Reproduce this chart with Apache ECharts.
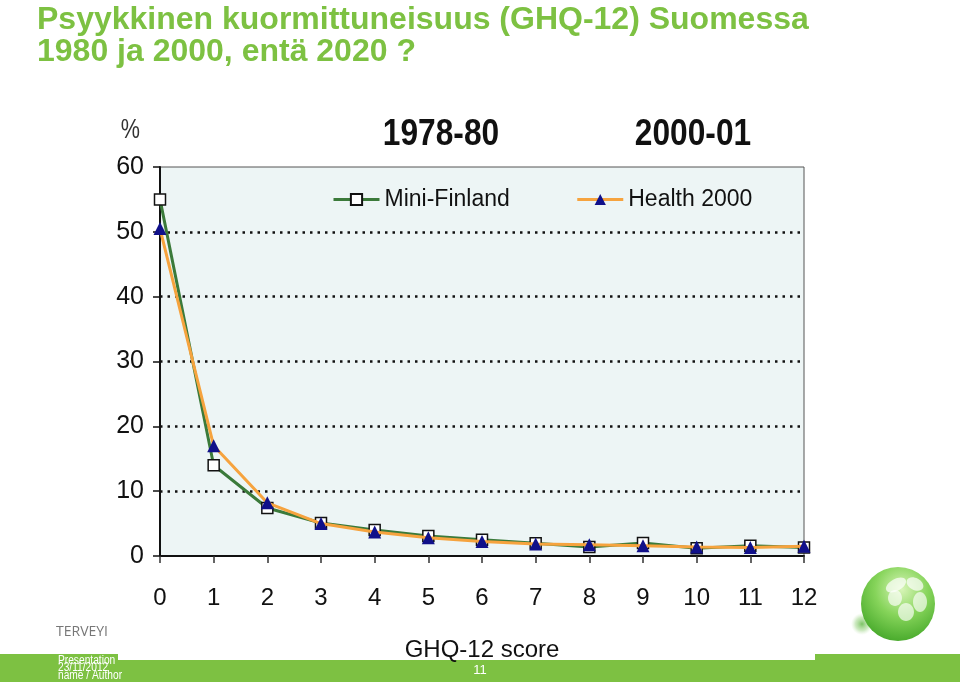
<!DOCTYPE html>
<html>
<head>
<meta charset="utf-8">
<script src="https://cdn.jsdelivr.net/npm/echarts@6/dist/echarts.min.js"></script>
<style>
html,body{margin:0;padding:0;background:#fff;}
#c{width:960px;height:682px;}
</style>
</head>
<body>
<div id="c"></div>
<script>
var categories = ['0','1','2','3','4','5','6','7','8','9','10','11','12'];
var miniFinland = [55, 14, 7.4, 5.1, 4.0, 3.1, 2.5, 1.95, 1.4, 2.0, 1.2, 1.6, 1.3];
var health2000 = [50.5, 17, 8.2, 5.0, 3.7, 2.8, 2.25, 1.85, 1.75, 1.6, 1.4, 1.3, 1.5];
var yTicks = {min: 0, max: 60, interval: 10};
var seriesNames = ['Mini-Finland', 'Health 2000'];
var periodLabels = ['1978-80', '2000-01'];
var titleLines = ['Psyykkinen kuormittuneisuus (GHQ-12) Suomessa', '1980 ja 2000, entä 2020 ?'];
var xAxisTitle = 'GHQ-12 score';
var yAxisUnit = '%';
var footerLeft = ['Presentation', '23/11/2012', 'name / Author'];
var pageNumber = '11';
var orgLabel = 'TERVEYI';

var ARIAL = '"Liberation Sans",Arial,sans-serif';
var GREEN = '#7DC142';

var chart = echarts.init(document.getElementById('c'), null, {renderer: 'canvas'});
var option = {
  backgroundColor: '#ffffff',
  animation: false,
  grid: {
    left: 160, right: 156, top: 167, bottom: 126,
    show: true, backgroundColor: '#EDF5F5', borderColor: '#555', borderWidth: 1
  },
  legend: {
    left: 327, top: 183,
    itemWidth: 46, itemHeight: 14, itemGap: 66,
    lineStyle: {width: 3},
    textStyle: {fontFamily: ARIAL, fontSize: 23, color: '#111'},
    data: seriesNames
  },
  xAxis: {
    type: 'category', data: categories, boundaryGap: false, z: 5,
    axisLine: {lineStyle: {color: '#111', width: 2}},
    axisTick: {show: true, length: 7, lineStyle: {color: '#333', width: 1.5}},
    axisLabel: {fontFamily: ARIAL, fontSize: 24, color: '#111', margin: 30},
    name: xAxisTitle, nameLocation: 'middle', nameGap: 82,
    nameTextStyle: {fontFamily: ARIAL, fontSize: 24, color: '#111'}
  },
  yAxis: {
    type: 'value', min: yTicks.min, max: yTicks.max, interval: yTicks.interval,
    axisLine: {show: true, lineStyle: {color: '#111', width: 2}},
    axisTick: {show: true, length: 7, lineStyle: {color: '#111', width: 1.5}},
    axisLabel: {fontFamily: ARIAL, fontSize: 25, color: '#111', margin: 16},
    splitLine: {show: true, showMinLine: false, showMaxLine: false,
      lineStyle: {color: '#111', width: 2.5, type: [2.5, 5]}}
  },
  series: [
    {
      name: seriesNames[0], type: 'line', data: miniFinland,
      symbol: 'rect', symbolSize: 11,
      lineStyle: {color: '#3B7A3A', width: 3},
      itemStyle: {color: '#ffffff', borderColor: '#111', borderWidth: 1.5},
      z: 2
    },
    {
      name: seriesNames[1], type: 'line', data: health2000,
      symbol: 'triangle', symbolSize: 13,
      lineStyle: {color: '#F6A33E', width: 3},
      itemStyle: {color: '#10108A', borderColor: '#10108A', borderWidth: 0},
      z: 3
    }
  ],
  graphic: [
    {type: 'rect', shape: {x: 0, y: 654, width: 960, height: 28}, style: {fill: GREEN}, z: -2},
    {type: 'rect', shape: {x: 118, y: 600, width: 697, height: 60}, style: {fill: '#ffffff'}, z: -1},
    {type: 'text', x: 37, y: 4, z: 5, style: {text: titleLines[0], font: 'bold 32px ' + ARIAL, fill: GREEN}},
    {type: 'text', x: 37, y: 36, z: 5, style: {text: titleLines[1], font: 'bold 32px ' + ARIAL, fill: GREEN}},
    {type: 'text', x: 140, y: 117, z: 5, scaleX: 0.8, style: {text: yAxisUnit, font: '27px ' + ARIAL, fill: '#333', align: 'right'}},
    {type: 'text', x: 441, y: 117, z: 5, scaleX: 0.88, style: {text: periodLabels[0], font: 'bold 36px ' + ARIAL, fill: '#111', align: 'center'}},
    {type: 'text', x: 693, y: 117, z: 5, scaleX: 0.88, style: {text: periodLabels[1], font: 'bold 36px ' + ARIAL, fill: '#111', align: 'center'}},
    {type: 'text', x: 56, y: 625, z: -3, style: {text: orgLabel, font: '14px "Open Sans",' + ARIAL, fill: '#777'}},
    {type: 'text', x: 58, y: 655, z: 6, scaleX: 0.85, style: {text: footerLeft[0], font: '12px ' + ARIAL, fill: '#fff'}},
    {type: 'text', x: 58, y: 662, z: 6, scaleX: 0.85, style: {text: footerLeft[1], font: '12px ' + ARIAL, fill: '#fff'}},
    {type: 'text', x: 58, y: 670, z: 6, scaleX: 0.85, style: {text: footerLeft[2], font: '12px ' + ARIAL, fill: '#fff'}},
    {type: 'text', x: 480, y: 664, z: 6, style: {text: pageNumber, font: '13px ' + ARIAL, fill: '#fff', align: 'center'}},
    {type: 'ellipse', shape: {cx: 862, cy: 624, rx: 27, ry: 11}, z: 2,
      style: {fill: {type: 'radial', x: 0.5, y: 0.5, r: 0.5, colorStops: [{offset: 0, color: 'rgba(80,175,50,0.75)'}, {offset: 0.6, color: 'rgba(130,200,100,0.4)'}, {offset: 1, color: 'rgba(180,225,160,0)'}]}}},
    {type: 'circle', shape: {cx: 898, cy: 604, r: 37}, z: 3,
      style: {fill: {type: 'radial', x: 0.55, y: 0.3, r: 0.8, colorStops: [{offset: 0, color: '#D8F5B8'}, {offset: 0.45, color: '#86D45A'}, {offset: 0.85, color: '#4EAE30'}, {offset: 1, color: '#3E9826'}]}}},
    {type: 'ellipse', shape: {cx: 896, cy: 585, rx: 11, ry: 6}, rotation: 0.5, originX: 896, originY: 585, z: 4, style: {fill: 'rgba(255,255,255,0.7)'}},
    {type: 'ellipse', shape: {cx: 915, cy: 584, rx: 9, ry: 6}, rotation: -0.5, originX: 915, originY: 584, z: 4, style: {fill: 'rgba(255,255,255,0.7)'}},
    {type: 'ellipse', shape: {cx: 920, cy: 602, rx: 7, ry: 10}, z: 4, style: {fill: 'rgba(255,255,255,0.65)'}},
    {type: 'ellipse', shape: {cx: 906, cy: 612, rx: 8, ry: 9}, z: 4, style: {fill: 'rgba(255,255,255,0.65)'}},
    {type: 'ellipse', shape: {cx: 895, cy: 598, rx: 7, ry: 8}, z: 4, style: {fill: 'rgba(255,255,255,0.65)'}}
  ]
};
chart.setOption(option);
</script>
</body>
</html>
